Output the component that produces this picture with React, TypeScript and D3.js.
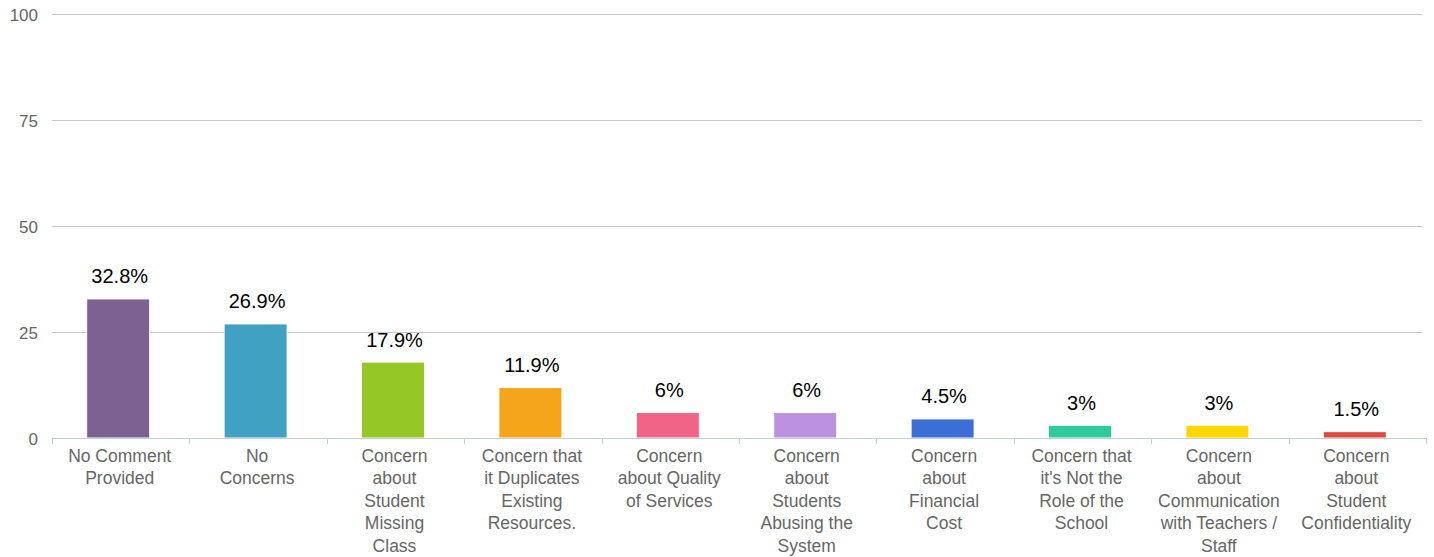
import * as d3 from "d3";
import React, { useEffect, useRef } from "react";

const categories: string[][] = [
  ["No Comment", "Provided"],
  ["No", "Concerns"],
  ["Concern", "about", "Student", "Missing", "Class"],
  ["Concern that", "it Duplicates", "Existing", "Resources."],
  ["Concern", "about Quality", "of Services"],
  ["Concern", "about", "Students", "Abusing the", "System"],
  ["Concern", "about", "Financial", "Cost"],
  ["Concern that", "it's Not the", "Role of the", "School"],
  ["Concern", "about", "Communication", "with Teachers /", "Staff"],
  ["Concern", "about", "Student", "Confidentiality"],
];
const values: number[] = [32.8, 26.9, 17.9, 11.9, 6, 6, 4.5, 3, 3, 1.5];
const valueLabels: string[] = ["32.8%", "26.9%", "17.9%", "11.9%", "6%", "6%", "4.5%", "3%", "3%", "1.5%"];
const colors: string[] = [
  "#7d6193", "#41a1c3", "#95c825", "#f4a51a", "#ef6487",
  "#bc91e0", "#3b6fd6", "#2fcc9b", "#fed600", "#db4c3f",
];
const yTicks: number[] = [0, 25, 50, 75, 100];

const App: React.FC = () => {
  const ref = useRef<SVGSVGElement>(null);

  useEffect(() => {
    const width = 1434;
    const height = 557;
    const margin = { top: 14, right: 8, bottom: 119, left: 52 };
    const font = "'Liberation Sans', Arial, Helvetica, sans-serif";

    d3.select(ref.current).selectAll("*").remove();
    const svg = d3.select(ref.current)
      .attr("width", width)
      .attr("height", height)
      .style("font-family", font);

    const idx = values.map((_, i) => String(i));

    const x = d3.scaleBand()
      .domain(idx)
      .range([margin.left, width - margin.right])
      .paddingInner(0)
      .paddingOuter(0);

    const y = d3.scaleLinear()
      .domain([0, 100])
      .range([height - margin.bottom, margin.top]);

    const center = (i: number) => x(String(i))! + x.bandwidth() / 2;

    // Gridlines
    svg.append("g")
      .selectAll("line")
      .data(yTicks.filter((t) => t > 0))
      .enter()
      .append("line")
      .attr("x1", margin.left)
      .attr("x2", width - margin.right - 4)
      .attr("y1", (d) => y(d) + 0.5)
      .attr("y2", (d) => y(d) + 0.5)
      .attr("stroke", "#c8c8c8")
      .attr("stroke-width", 1);

    // Y tick labels
    svg.append("g")
      .selectAll("text")
      .data(yTicks)
      .enter()
      .append("text")
      .attr("x", 38)
      .attr("y", (d) => y(d) + 6.5)
      .attr("text-anchor", "end")
      .attr("fill", "#666666")
      .style("font-size", "17px")
      .text((d) => d);

    // Bars
    svg.append("g")
      .selectAll("rect")
      .data(values)
      .enter()
      .append("rect")
      .attr("x", (_, i) => center(i) - 34)
      .attr("y", (d) => y(d))
      .attr("width", 63)
      .attr("height", (d) => y(0) - y(d))
      .attr("fill", (_, i) => colors[i])
      .attr("stroke", "#ffffff")
      .attr("stroke-width", 1);

    // Value labels
    svg.append("g")
      .selectAll("text")
      .data(values)
      .enter()
      .append("text")
      .attr("x", (_, i) => center(i) - 1)
      .attr("y", (d) => y(d) - 15.5)
      .attr("text-anchor", "middle")
      .attr("fill", "#000000")
      .style("font-size", "20px")
      .text((_, i) => valueLabels[i]);

    // X axis line
    svg.append("line")
      .attr("x1", margin.left)
      .attr("x2", width - margin.right)
      .attr("y1", y(0) + 0.5)
      .attr("y2", y(0) + 0.5)
      .attr("stroke", "#c0d0e0")
      .attr("stroke-width", 1);

    // X axis ticks at band boundaries
    const bounds = idx.map((d) => x(d)!).concat([width - margin.right]);
    svg.append("g")
      .selectAll("line")
      .data(bounds)
      .enter()
      .append("line")
      .attr("x1", (d) => Math.round(d) + 0.5)
      .attr("x2", (d) => Math.round(d) + 0.5)
      .attr("y1", y(0))
      .attr("y2", y(0) + 6)
      .attr("stroke", "#c0d0e0")
      .attr("stroke-width", 1);

    // Category labels
    const labels = svg.append("g")
      .selectAll("text")
      .data(categories)
      .enter()
      .append("text")
      .attr("text-anchor", "middle")
      .attr("fill", "#666666")
      .style("font-size", "17.5px")
      .attr("x", (_, i) => center(i))
      .attr("y", y(0) + 23.5);

    labels.selectAll("tspan")
      .data((d, i) => d.map((line) => ({ line, i })))
      .enter()
      .append("tspan")
      .attr("x", (d) => center(d.i) - 1)
      .attr("dy", (_, j) => (j === 0 ? 0 : 22.6))
      .text((d) => d.line);
  }, []);

  return <svg ref={ref} style={{ position: "absolute", left: 0, top: 0 }}></svg>;
};

export default App;
